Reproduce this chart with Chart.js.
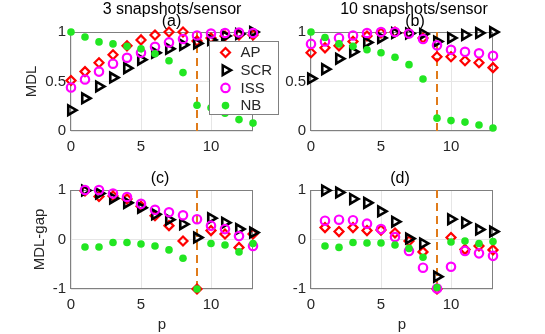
<!DOCTYPE html>
<html>
<head>
<meta charset="utf-8">
<script src="https://cdn.jsdelivr.net/npm/chart.js@4.4.1/dist/chart.umd.min.js"></script>
<style>
  html, body { margin: 0; padding: 0; background: #fff; }
  #wrap { position: relative; width: 545px; height: 334px; overflow: hidden; }
  #wrap canvas { position: absolute; left: 0; top: 0; }
</style>
</head>
<body>
<div id="wrap">
  <canvas id="panelB" width="545" height="334"></canvas>
  <canvas id="panelD" width="545" height="334"></canvas>
  <canvas id="panelC" width="545" height="334"></canvas>
  <canvas id="panelA" width="545" height="334"></canvas>
</div>
<script>
// x values (number of sources p)
const pAll = [0, 1, 2, 3, 4, 5, 6, 7, 8, 9, 10, 11, 12, 13];
const pGap = [1, 2, 3, 4, 5, 6, 7, 8, 9, 10, 11, 12, 13];
const trueP = 9;

const seriesNames = ['AP', 'SCR', 'ISS', 'NB'];

// (a) MDL, 3 snapshots/sensor
const mdl3AP  = [0.51, 0.60, 0.69, 0.77, 0.86, 0.92, 0.97, 1.00, 1.00, 0.91, 0.94, 0.96, 0.97, 0.97];
const mdl3SCR = [0.21, 0.33, 0.45, 0.54, 0.635, 0.72, 0.79, 0.83, 0.87, 0.885, 0.92, 0.96, 0.98, 1.00];
const mdl3ISS = [0.44, 0.52, 0.60, 0.68, 0.74, 0.79, 0.85, 0.895, 0.93, 0.965, 0.985, 0.99, 0.995, 0.99];
const mdl3NB  = [1.00, 0.95, 0.90, 0.88, 0.855, 0.83, 0.78, 0.71, 0.59, 0.26, 0.235, 0.18, 0.115, 0.08];

// (b) MDL, 10 snapshots/sensor
const mdl10AP  = [0.79, 0.84, 0.86, 0.905, 0.96, 0.99, 1.00, 0.99, 0.94, 0.75, 0.75, 0.71, 0.69, 0.64];
const mdl10SCR = [0.53, 0.625, 0.73, 0.80, 0.895, 0.94, 0.99, 0.985, 0.98, 0.905, 0.94, 0.97, 0.99, 1.00];
const mdl10ISS = [0.88, 0.905, 0.94, 0.965, 0.99, 1.00, 1.00, 0.985, 0.93, 0.865, 0.82, 0.80, 0.785, 0.76];
const mdl10NB  = [1.00, 0.945, 0.88, 0.855, 0.82, 0.79, 0.745, 0.67, 0.525, 0.13, 0.105, 0.09, 0.06, 0.03];

// (c) MDL-gap, 3 snapshots/sensor
const gap3AP  = [0.98, 0.87, 0.88, 0.82, 0.67, 0.48, 0.28, -0.03, -1.00, 0.18, 0.11, -0.16, 0.11];
const gap3SCR = [0.99, 0.93, 0.83, 0.74, 0.64, 0.51, 0.40, 0.31, 0.04, 0.43, 0.34, 0.21, 0.14];
const gap3ISS = [1.00, 1.00, 0.93, 0.86, 0.72, 0.60, 0.55, 0.49, 0.41, 0.28, 0.21, 0.07, -0.13];
const gap3NB  = [-0.15, -0.15, -0.06, -0.06, -0.09, -0.13, -0.21, -0.38, -1.00, -0.08, -0.11, -0.25, -0.08];

// (d) MDL-gap, 10 snapshots/sensor
const gap10AP  = [0.24, 0.16, 0.24, 0.18, 0.19, 0.13, -0.03, -0.25, -1.00, 0.04, -0.20, -0.13, -0.21];
const gap10SCR = [0.99, 0.95, 0.82, 0.74, 0.57, 0.36, 0.02, -0.08, -0.75, 0.41, 0.34, 0.20, 0.16];
const gap10ISS = [0.38, 0.40, 0.39, 0.32, 0.21, 0.05, -0.23, -0.57, -0.99, -0.55, -0.23, -0.28, -0.33];
const gap10NB  = [-0.13, -0.16, -0.06, -0.07, -0.07, -0.11, -0.18, -0.36, -0.97, -0.05, -0.03, -0.08, -0.04];

// ticks
const xTickVals = [0, 5, 10];
const yTickMDL = [0, 0.5, 1];
const yTickGap = [-1, 0, 1];

// ---- styling ----
const FONT = '"Liberation Sans", Arial, Helvetica, sans-serif';
Chart.defaults.font.family = FONT;
Chart.defaults.animation = false;

const tickColor = '#262626';
const gridColor = '#e6e6e6';
const boxColor = '#808080';
const dashColor = '#e07b1a';

const markerStyle = {
  AP:  { pointStyle: 'rectRot',  rotation: 0,  radius: 4.5, borderWidth: 2.2, borderColor: '#ff0000', backgroundColor: 'rgba(0,0,0,0)' },
  SCR: { pointStyle: 'triangle', rotation: 90, radius: 5.5, borderWidth: 2.6, borderColor: '#000000', backgroundColor: 'rgba(0,0,0,0)' },
  ISS: { pointStyle: 'circle',   rotation: 0,  radius: 4.2, borderWidth: 2.2, borderColor: '#ff00ff', backgroundColor: 'rgba(0,0,0,0)' },
  NB:  { pointStyle: 'circle',   rotation: 0,  radius: 3.8, borderWidth: 0,   borderColor: '#22e622', backgroundColor: '#22e622' }
};
const drawOrder = { AP: 4, SCR: 3, ISS: 2, NB: 1 };

function seriesDataset(name, xs, ys) {
  const s = markerStyle[name];
  return {
    label: name,
    data: xs.map((x, i) => ({ x: x, y: ys[i] })),
    showLine: false,
    pointStyle: s.pointStyle,
    rotation: s.rotation,
    pointRadius: s.radius,
    pointBorderWidth: s.borderWidth,
    pointBorderColor: s.borderColor,
    pointBackgroundColor: s.backgroundColor,
    borderColor: s.borderColor,
    backgroundColor: s.backgroundColor,
    order: drawOrder[name],
    clip: false
  };
}

function truthLine(yMin, yMax) {
  return {
    type: 'line',
    label: 'true p',
    data: [{ x: trueP, y: yMin }, { x: trueP, y: yMax }],
    borderColor: dashColor,
    borderWidth: 2,
    borderDash: [8, 5],
    pointRadius: 0,
    fill: false,
    order: 10,
    clip: false
  };
}

function xScale(xHeight, showTitle) {
  return {
    type: 'linear', min: 0, max: 13,
    afterBuildTicks: s => { s.ticks = xTickVals.map(v => ({ value: v })); },
    afterFit: s => { s.height = xHeight; },
    grid: { color: gridColor, drawTicks: false },
    border: { display: false },
    ticks: { color: tickColor, font: { size: 15 }, padding: 7, maxRotation: 0, autoSkip: false, callback: v => String(v) },
    title: { display: showTitle, text: 'p', color: tickColor, font: { size: 15 }, padding: { top: 0, bottom: 0 } }
  };
}

function yScale(min, max, tickVals, yWidth, titleText) {
  return {
    type: 'linear', min: min, max: max,
    afterBuildTicks: s => { s.ticks = tickVals.map(v => ({ value: v })); },
    afterFit: s => { s.width = yWidth; },
    grid: { color: gridColor, drawTicks: false },
    border: { display: false },
    ticks: { color: tickColor, font: { size: 15 }, padding: 5, autoSkip: false, callback: v => String(v) },
    title: { display: !!titleText, text: titleText || '', color: tickColor, font: { size: 15 }, padding: { top: 0, bottom: 0 } }
  };
}

// box round the axes, drawn under the markers like MATLAB
const panelBox = {
  id: 'panelBox',
  beforeDatasetsDraw(chart) {
    const a = chart.chartArea;
    const ctx = chart.ctx;
    ctx.save();
    ctx.strokeStyle = boxColor;
    ctx.lineWidth = 1;
    const l = Math.round(a.left) - 0.5, t = Math.round(a.top) + 0.5;
    const r = Math.round(a.right) - 0.5, b = Math.round(a.bottom) - 0.5;
    ctx.strokeRect(l, t, r - l, b - t);
    ctx.restore();
  }
};

// titles above each panel
const panelTitles = {
  id: 'panelTitles',
  afterDraw(chart, args, opts) {
    if (!opts.lines) return;
    const a = chart.chartArea;
    const cx = (a.left + a.right) / 2;
    const ctx = chart.ctx;
    ctx.save();
    ctx.fillStyle = '#000';
    ctx.textAlign = 'center';
    ctx.textBaseline = 'middle';
    ctx.font = '16px ' + FONT;
    opts.lines.forEach(l => ctx.fillText(l.text, cx + l.dx, a.top + l.dy));
    ctx.restore();
  }
};

// boxed legend in panel (a), overlapping the right edge
function drawMarker(ctx, s, x, y) {
  ctx.save();
  ctx.strokeStyle = s.borderColor;
  ctx.fillStyle = s.backgroundColor;
  ctx.lineWidth = s.borderWidth;
  if (Chart.helpers && Chart.helpers.drawPoint) {
    Chart.helpers.drawPoint(ctx, { pointStyle: s.pointStyle, rotation: s.rotation, radius: s.radius, borderWidth: s.borderWidth }, x, y);
  }
  ctx.restore();
}

const panelLegend = {
  id: 'panelLegend',
  afterDraw(chart, args, opts) {
    if (!opts.show) return;
    const a = chart.chartArea;
    const ctx = chart.ctx;
    const bx = Math.round(a.right) - 44 + 0.5, by = Math.round(a.top) + 9 + 0.5;
    const bw = 69, bh = 73;
    ctx.save();
    ctx.fillStyle = '#fff';
    ctx.fillRect(bx, by, bw, bh);
    ctx.strokeStyle = boxColor;
    ctx.lineWidth = 1;
    ctx.strokeRect(bx, by, bw, bh);
    ctx.font = '15px ' + FONT;
    ctx.textBaseline = 'middle';
    ctx.textAlign = 'left';
    seriesNames.forEach((name, i) => {
      const y = by + 11 + i * 17.7;
      drawMarker(ctx, markerStyle[name], bx + 16, y);
      ctx.fillStyle = tickColor;
      ctx.fillText(name, bx + 31, y + 0.5);
    });
    ctx.restore();
  }
};

function makePanel(id, xs, ys, yMin, yMax, yTicks, layout, extra) {
  const datasets = seriesNames.map((n, i) => seriesDataset(n, xs, ys[i]));
  datasets.push(truthLine(yMin, yMax));
  return new Chart(document.getElementById(id), {
    type: 'scatter',
    data: { datasets: datasets },
    options: {
      responsive: false,
      animation: false,
      layout: { padding: layout.padding },
      scales: {
        x: xScale(layout.xHeight, layout.xTitle),
        y: yScale(yMin, yMax, yTicks, layout.yWidth, layout.yTitle)
      },
      plugins: {
        legend: { display: false },
        tooltip: { enabled: false },
        panelTitles: { lines: extra.titles },
        panelLegend: { show: !!extra.legend }
      }
    },
    plugins: [panelBox, panelTitles, panelLegend]
  });
}

makePanel('panelB', pAll, [mdl10AP, mdl10SCR, mdl10ISS, mdl10NB], 0, 1, yTickMDL,
  { padding: { left: 271, right: 52, top: 32, bottom: 173 }, yWidth: 40, xHeight: 30, xTitle: false, yTitle: '' },
  { titles: [{ text: '10 snapshots/sensor', dx: 12, dy: -22.5 }, { text: '(b)', dx: 13, dy: -10.5 }] });

makePanel('panelD', pGap, [gap10AP, gap10SCR, gap10ISS, gap10NB], -1, 1, yTickGap,
  { padding: { left: 271, right: 52, top: 190, bottom: 0 }, yWidth: 40, xHeight: 45, xTitle: true, yTitle: '' },
  { titles: [{ text: '(d)', dx: -2, dy: -11.5 }] });

makePanel('panelC', pGap, [gap3AP, gap3SCR, gap3ISS, gap3NB], -1, 1, yTickGap,
  { padding: { left: 31, right: 292, top: 190, bottom: 0 }, yWidth: 40, xHeight: 45, xTitle: true, yTitle: 'MDL-gap' },
  { titles: [{ text: '(c)', dx: -2, dy: -11.5 }] });

makePanel('panelA', pAll, [mdl3AP, mdl3SCR, mdl3ISS, mdl3NB], 0, 1, yTickMDL,
  { padding: { left: 23, right: 292, top: 32, bottom: 173 }, yWidth: 48, xHeight: 30, xTitle: false, yTitle: 'MDL' },
  { titles: [{ text: '3 snapshots/sensor', dx: 10, dy: -22.5 }, { text: '(a)', dx: 9.5, dy: -10.5 }], legend: true });
</script>
</body>
</html>
